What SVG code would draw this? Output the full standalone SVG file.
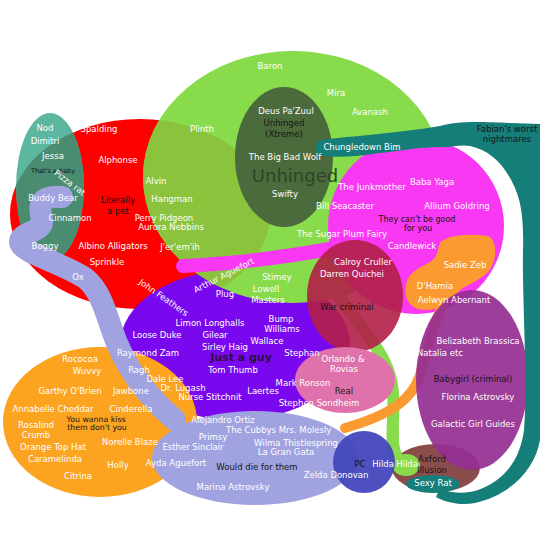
<svg xmlns="http://www.w3.org/2000/svg" width="540" height="540" viewBox="0 0 540 540">
<defs>
<style>
text{font-family:"DejaVu Sans","Liberation Sans",sans-serif;font-size:8.5px;text-anchor:middle}
.w{fill:#ffffff}
.k{fill:#151515}
.s{font-size:6.5px}
.m{font-size:7.8px}
.brush{fill:none;stroke-linecap:round;stroke-linejoin:round}
</style>
<clipPath id="clipRed"><ellipse cx="140" cy="214" rx="130" ry="95"/></clipPath>
</defs>
<rect width="540" height="540" fill="#ffffff"/>

<g id="set-pet">
<ellipse cx="140" cy="214" rx="130" ry="95" fill="#fd0000"/>
</g>
<g id="set-guy">
<ellipse cx="235" cy="345" rx="115" ry="75" fill="#7a08ef"/>
</g>
<g id="set-unhinged">
<ellipse cx="293" cy="177" rx="150" ry="126" fill="#88dc4c"/>
<ellipse cx="293" cy="177" rx="150" ry="126" fill="#8bc43c" clip-path="url(#clipRed)"/>
</g>
<g id="set-baby">
<ellipse cx="50" cy="187" rx="34" ry="74" fill="#5db69f"/>
<ellipse cx="50" cy="187" rx="34" ry="74" fill="#4a8c70" clip-path="url(#clipRed)"/>
</g>
<g id="set-xtreme">
<ellipse cx="284" cy="157" rx="49" ry="70" fill="#4b6b3c"/>
</g>

<g id="connectors">
<path class="brush" d="M183 266 C230 264 280 258 335 248" stroke="#f838f2" stroke-width="14"/>
</g>

<g id="set-not-good">
<circle cx="416" cy="226" r="88" fill="#f838f2"/>
<path d="M440 243 C445 235 470 233 488 236 C498 240 497 262 488 272 C478 282 465 285 458 292 C450 302 440 310 425 310 C410 310 403 298 406 285 C408 272 420 268 430 262 C438 257 437 250 440 243 Z" fill="#fc9a32"/>
</g>
<g id="connectors-3">
<path class="brush" d="M322 272 C340 300 365 330 378 350 C392 372 395 390 393 420 C392 440 392 455 402 463" stroke="#88dc4c" stroke-width="12"/>
</g>
<g id="set-war-criminal">
<ellipse cx="355" cy="296" rx="48" ry="56" fill="#b11f48" opacity="0.9"/>
</g>
<g id="set-kiss">
<ellipse cx="100" cy="422" rx="97" ry="75" fill="#fca320"/>
</g>
<g id="set-axford">
<ellipse cx="436" cy="468" rx="44" ry="24" fill="#8b4d4c"/>
</g>
<g id="connectors-2">
<path class="brush" d="M445 300 C435 320 428 345 420 375 C412 400 390 415 345 428" stroke="#fc9a32" stroke-width="10"/>
</g>
<g id="set-babygirl">
<ellipse cx="472" cy="380" rx="56" ry="90" fill="#952e92" opacity="0.92"/>
</g>
<g id="connectors-5">
<path class="brush" d="M393 430 C392 445 393 456 402 463" stroke="#88dc4c" stroke-width="12"/>
<ellipse cx="406" cy="465" rx="14" ry="11" fill="#88dc4c"/>
</g>
<g id="set-real">
<ellipse cx="345" cy="380" rx="50" ry="33" fill="#df72aa"/>
</g>
<g id="connectors-4">
<path class="brush" d="M62 197 C40 195 38 205 42 220 C44 232 20 232 20 242 C20 252 60 262 85 278 C100 290 105 310 112 330 C122 360 142 392 175 420" stroke="#a0a3e0" stroke-width="22"/>
</g>
<g id="set-die">
<ellipse cx="255" cy="458" rx="103" ry="47" fill="#a0a3e0"/>
</g>
<g id="set-pc">
<circle cx="364" cy="462" r="31" fill="#4347ba" opacity="0.95"/>
</g>
<g id="set-fabian">
<path d="M322 140 C350 136 400 133 440 126 C455 122 470 121 510 123 L540 124 L540 440 C535 470 510 495 475 503 C460 506 445 502 436 497 L440 488 C452 494 466 494 478 490 C505 480 520 460 524 430 C528 380 522 300 523 250 C524 215 520 200 515 188 C505 165 490 150 470 146 C460 144 450 148 440 147 C420 147 400 151 380 153 C360 156 340 158 322 156 C315 155 313 141 322 140 Z" fill="#157e79"/>
<ellipse cx="433" cy="484" rx="27" ry="9" fill="#157e79"/>
</g>

<g id="labels">
<text class="w" x="45" y="131">Nod</text>
<text class="w" x="45" y="144">Dimitri</text>
<text class="w" x="53" y="159">Jessa</text>
<text class="k s" x="53" y="173">That's a baby</text>
<text class="w" transform="translate(68 185) rotate(37)">Pizza rat</text>
<text class="w" x="53" y="201">Buddy Bear</text>
<text class="w" x="70" y="221">Cinnamon</text>
<text class="w" x="45" y="249">Boggy</text>
<text class="w" x="78" y="280">Ox</text>
<text class="w" x="99" y="132">Spalding</text>
<text class="w" x="118" y="163">Alphonse</text>
<text class="k" x="118" y="203">Literally</text>
<text class="k" x="118" y="214">a pet</text>
<text class="w" x="156" y="184">Alvin</text>
<text class="w" x="172" y="202">Hangman</text>
<text class="w" x="164" y="221">Perry Pidgeon</text>
<text class="w" x="171" y="230">Aurora Nebbins</text>
<text class="w" x="113" y="249">Albino Alligators</text>
<text class="w" x="107" y="265">Sprinkle</text>
<text class="w" x="180" y="250">J'er'em'ih</text>

<text class="w" x="270" y="69">Baron</text>
<text class="w" x="336" y="96">Mira</text>
<text class="w" x="370" y="115">Avanash</text>
<text class="w" x="202" y="132">Plinth</text>
<text class="w" x="286" y="114">Deus Pa'Zuul</text>
<text class="k" x="284" y="126">Unhinged</text>
<text class="k" x="284" y="137">(Xtreme)</text>
<text class="w" x="285" y="160">The Big Bad Wolf</text>
<text x="295" y="182" style="font-size:18px;fill:#2f442a">Unhinged</text>
<text class="w" x="285" y="197">Swifty</text>
<text class="w" x="345" y="209">Bill Seacaster</text>
<text class="w" x="342" y="237">The Sugar Plum Fairy</text>

<text class="w" x="362" y="150">Chungledown Bim</text>
<text class="k" x="507" y="132">Fabian's worst</text>
<text class="k" x="507" y="142">nightmares</text>
<text class="w" x="372" y="190">The Junkmother</text>
<text class="w" x="432" y="185">Baba Yaga</text>
<text class="w" x="457" y="209">Allium Goldring</text>
<text class="k" x="417" y="222" style="font-size:8px">They can't be good</text>
<text class="k" x="418" y="231" style="font-size:8px">for you</text>
<text class="w" x="412" y="249">Candlewick</text>
<text class="w" x="465" y="268">Sadie Zeb</text>
<text class="w" x="363" y="265">Calroy Cruller</text>
<text class="w" x="352" y="277">Darren Quichei</text>
<text class="w" x="435" y="289">D'Hamia</text>
<text class="w" x="454" y="303">Aelwyn Abernant</text>
<text class="k" x="347" y="310">War criminal</text>

<text class="w" transform="translate(225 278) rotate(-27)">Arthur Aguefort</text>
<text class="w" transform="translate(162 300) rotate(35)">John Feathers</text>
<text class="w" x="277" y="280">Stimey</text>
<text class="w" x="266" y="292">Lowell</text>
<text class="w" x="268" y="303">Masters</text>
<text class="w" x="225" y="297">Plug</text>
<text class="w" x="210" y="326">Limon Longhalls</text>
<text class="w" x="281" y="322">Bump</text>
<text class="w" x="282" y="332">Williams</text>
<text class="w" x="157" y="338">Loose Duke</text>
<text class="w" x="215" y="338">Gilear</text>
<text class="w" x="267" y="344">Wallace</text>
<text class="w" x="225" y="350">Sirley Haig</text>
<text class="w" x="302" y="356">Stephan</text>
<text x="241" y="361" style="font-size:11px;font-weight:bold;fill:#2b0f44">Just a guy</text>
<text class="w" x="148" y="356">Raymond Zam</text>
<text class="w" x="233" y="373">Tom Thumb</text>
<text class="w" x="139" y="373">Ragh</text>
<text class="w" x="165" y="382">Dale Lee</text>
<text class="w" x="183" y="391">Dr. Lugash</text>
<text class="w" x="210" y="400">Nurse Stitchnit</text>
<text class="w" x="263" y="394">Laertes</text>
<text class="w" x="303" y="386">Mark Ronson</text>
<text class="w" x="319" y="406">Stephen Sondheim</text>
<text class="w" x="343" y="362">Orlando &amp;</text>
<text class="w" x="344" y="372">Rovias</text>
<text class="k" x="344" y="394">Real</text>

<text class="w" x="478" y="344">Belizabeth Brassica</text>
<text class="w" x="440" y="356">Natalia etc</text>
<text class="k" x="473" y="382">Babygirl (criminal)</text>
<text class="w" x="478" y="400">Florina Astrovsky</text>
<text class="w" x="473" y="427">Galactic Girl Guides</text>

<text class="w" x="80" y="362">Rococoa</text>
<text class="w" x="87" y="374">Wuvvy</text>
<text class="w" x="70" y="394">Garthy O'Brien</text>
<text class="w" x="131" y="394">Jawbone</text>
<text class="w" x="53" y="412">Annabelle Cheddar</text>
<text class="w" x="131" y="412">Cinderella</text>
<text class="k m" x="96" y="422">You wanna kiss</text>
<text class="k m" x="97" y="430">them don't you</text>
<text class="w" x="36" y="428">Rosalind</text>
<text class="w" x="36" y="438">Crumb</text>
<text class="w" x="53" y="450">Orange Top Hat</text>
<text class="w" x="130" y="445">Norelle Blaze</text>
<text class="w" x="55" y="462">Caramelinda</text>
<text class="w" x="118" y="468">Holly</text>
<text class="w" x="78" y="479">Citrina</text>

<text class="w" x="223" y="423">Alejandro Ortiz</text>
<text class="w" x="213" y="440">Primsy</text>
<text class="w" x="251" y="433">The Cubbys</text>
<text class="w" x="305" y="433">Mrs. Molesly</text>
<text class="w" x="193" y="450">Esther Sinclair</text>
<text class="w" x="296" y="446">Wilma Thistlespring</text>
<text class="w" x="286" y="455">La Gran Gata</text>
<text class="w" x="176" y="466">Ayda Aguefort</text>
<text class="k" x="257" y="470">Would die for them</text>
<text class="w" x="336" y="478">Zelda Donovan</text>
<text class="w" x="233" y="490">Marina Astrovsky</text>
<text class="k" x="360" y="467">PC</text>
<text class="w" x="383" y="467">Hilda</text>
<text class="w" x="407" y="467">Hilda</text>
<text class="k" x="432" y="462">Axford</text>
<text class="k" x="432" y="473">Illusion</text>
<text class="w" x="433" y="486">Sexy Rat</text>
</g>
</svg>
